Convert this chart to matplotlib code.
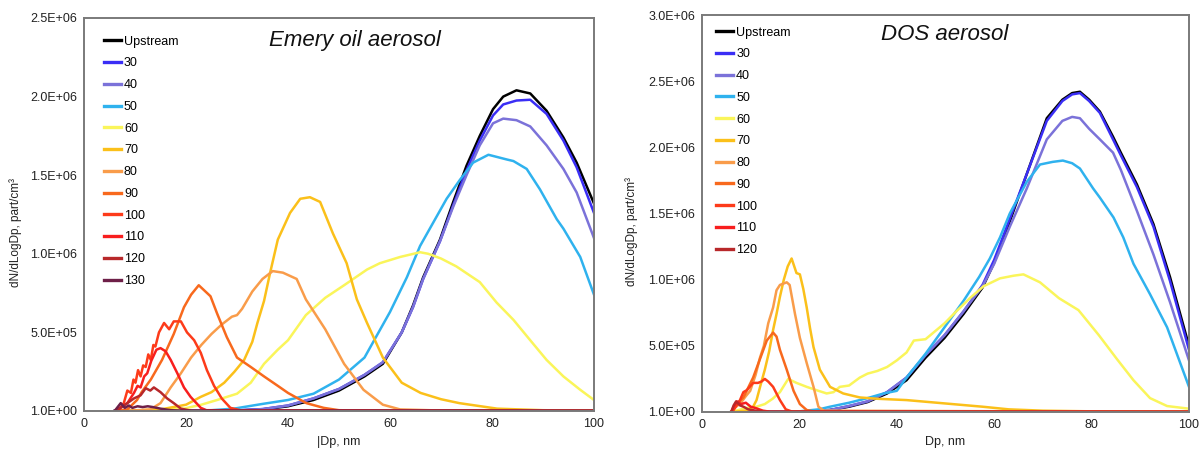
import matplotlib
matplotlib.use("Agg")
import matplotlib.pyplot as plt
import numpy as np

plt.rcParams['font.family'] = ['Liberation Sans', 'DejaVu Sans']

SCALE = 1e5  # values below are in units of 1e5 part/cm3

labels_left = ["Upstream", "30", "40", "50", "60", "70", "80", "90", "100", "110", "120", "130"]
labels_right = ["Upstream", "30", "40", "50", "60", "70", "80", "90", "100", "110", "120"]
colors = {
    "Upstream": "#000000", "30": "#3a2ef5", "40": "#7b72d9", "50": "#2fb2ee",
    "60": "#faf55a", "70": "#fbc01a", "80": "#f99c4a", "90": "#f8691d",
    "100": "#fd3b1a", "110": "#f81e1e", "120": "#b8282a", "130": "#6e1f48",
}

# ---------------- Emery oil aerosol (left) ----------------
emery_up_dp = [6, 15, 25, 30, 35, 40, 45, 50, 55, 58.6, 62.3, 64.5, 66.5, 69.8, 72.4, 75, 77.6, 80.2, 82.2, 84.8, 87.5, 90.7, 94, 96.6, 100]
emery_up = [0, 0, 0.01, 0.03, 0.1, 0.3, 0.7, 1.3, 2.2, 3.0, 5.0, 6.7, 8.5, 10.9, 13.3, 15.6, 17.5, 19.2, 20.0, 20.4, 20.2, 19.1, 17.4, 15.8, 13.2]
emery_30 = [0, 0, 0.01, 0.04, 0.12, 0.35, 0.8, 1.4, 2.3, 3.1, 5.0, 6.6, 8.4, 10.8, 13.1, 15.3, 17.2, 18.8, 19.5, 19.75, 19.8, 18.9, 17.2, 15.5, 12.6]
emery_40 = [0, 0, 0.01, 0.04, 0.12, 0.35, 0.8, 1.4, 2.3, 3.1, 5.0, 6.6, 8.4, 10.8, 13.0, 15.0, 16.9, 18.3, 18.6, 18.5, 18.1, 16.9, 15.4, 13.9, 11.0]

emery_50_dp = [6, 20, 25, 29.4, 35, 40, 45, 50, 55, 60, 63.3, 65.9, 68.5, 71.1, 73.7, 76.3, 79.3, 82.9, 84.2, 86.8, 89.4, 92.7, 94, 97.3, 100]
emery_50 = [0, 0.01, 0.05, 0.15, 0.45, 0.7, 1.1, 2.0, 3.4, 6.3, 8.5, 10.5, 12.0, 13.5, 14.7, 15.8, 16.3, 16.0, 15.9, 15.4, 14.1, 12.2, 11.6, 9.8, 7.4]

emery_60_dp = [8, 12, 15, 19.6, 23, 26.1, 30, 32.7, 35.3, 38, 40, 43.5, 47.3, 51, 55.5, 58, 62, 65.9, 67.5, 70, 73, 77.6, 80.9, 84.2, 87.5, 90.7, 94, 97.3, 100]
emery_60 = [0, 0.05, 0.1, 0.15, 0.4, 0.7, 1.1, 1.8, 3.0, 3.9, 4.5, 6.1, 7.2, 8.0, 9.0, 9.4, 9.8, 10.1, 10.0, 9.7, 9.2, 8.2, 6.9, 5.8, 4.5, 3.25, 2.2, 1.35, 0.7]

emery_70_dp = [8, 15, 20, 22.9, 25, 27.5, 29.5, 31.4, 33, 34, 35.3, 36.5, 38, 40.4, 42.4, 44.3, 46.3, 48.8, 51.5, 53.5, 55.5, 58.6, 62.3, 66, 70, 73.6, 81, 90, 100]
emery_70 = [0, 0.1, 0.4, 0.9, 1.2, 1.8, 2.5, 3.25, 4.4, 5.6, 7.0, 8.8, 10.9, 12.6, 13.5, 13.6, 13.3, 11.3, 9.4, 7.1, 5.6, 3.4, 1.8, 1.15, 0.75, 0.5, 0.15, 0.05, 0.02]

emery_80_dp = [8, 13, 15, 17, 19, 21, 23, 25, 27, 29, 30, 31, 33, 35, 37, 39, 41.7, 43.5, 47.3, 51, 54.8, 58.6, 62, 70, 100]
emery_80 = [0, 0.1, 0.5, 1.5, 2.4, 3.4, 4.2, 4.9, 5.5, 6.0, 6.1, 6.5, 7.6, 8.4, 8.9, 8.8, 8.4, 7.1, 5.2, 3.0, 1.35, 0.4, 0.1, 0.03, 0.01]

emery_90_dp = [6, 8.5, 10.4, 11.3, 13.1, 15.3, 17.6, 19.6, 21, 22.5, 24.8, 26.1, 28, 30, 32.7, 35.3, 38, 40, 43.6, 47, 50, 60, 100]
emery_90 = [0, 0.1, 0.7, 1.2, 2.0, 3.25, 4.9, 6.6, 7.4, 8.0, 7.3, 6.2, 4.7, 3.4, 2.8, 2.2, 1.6, 1.15, 0.5, 0.2, 0.05, 0.01, 0.01]

emery_100_dp = [6, 6.8, 7.8, 8.5, 9.2, 9.7, 10.1, 10.6, 11.1, 11.6, 12.1, 12.6, 13.1, 13.6, 14, 14.7, 15.7, 16.7, 17.6, 19, 20.2, 21.6, 22.9, 24.1, 25.5, 27, 28.7, 31, 100]
emery_100 = [0, 0.05, 0.5, 1.3, 1.15, 2.0, 1.8, 2.6, 2.2, 2.9, 2.8, 3.6, 3.25, 4.2, 4.1, 5.0, 5.6, 5.2, 5.7, 5.7, 5.0, 4.5, 3.7, 2.6, 1.6, 0.8, 0.2, 0.02, 0.01]

emery_110_dp = [6, 7.5, 8.5, 9.8, 10.5, 11.1, 11.8, 12.4, 13.2, 14.2, 15, 16, 17, 18.3, 19.6, 20.9, 22.9, 24, 100]
emery_110 = [0, 0.3, 0.5, 1.15, 1.6, 1.5, 2.2, 2.4, 3.2, 3.9, 4.0, 3.8, 3.25, 2.4, 1.5, 0.9, 0.2, 0.05, 0.01]

emery_120_dp = [6, 7.2, 8.5, 9.8, 11.1, 12.1, 13, 13.7, 15, 16.3, 17.6, 19, 21, 100]
emery_120 = [0, 0.2, 0.5, 0.8, 1.0, 1.45, 1.3, 1.5, 1.2, 0.8, 0.5, 0.15, 0.02, 0.01]

emery_130_dp = [6, 7.2, 8, 8.8, 9.5, 10.5, 11.5, 12.5, 13.5, 15, 17, 20, 100]
emery_130 = [0, 0.5, 0.2, 0.35, 0.2, 0.3, 0.25, 0.3, 0.25, 0.15, 0.05, 0.02, 0.01]

# ---------------- DOS aerosol (right) ----------------
dos_up_dp = [6, 20, 26.3, 30.2, 34, 38, 42, 45.9, 49.8, 53.7, 57.6, 60, 63.2, 66.7, 70.8, 74, 76, 77.6, 79.5, 81.7, 84.4, 86, 89.3, 92.7, 96.1, 100]
dos_up = [0, 0.02, 0.15, 0.4, 0.75, 1.4, 2.4, 4.1, 5.6, 7.4, 9.4, 11.3, 14.4, 18.0, 22.2, 23.6, 24.1, 24.2, 23.6, 22.7, 20.8, 19.6, 17.2, 14.2, 10.2, 5.0]
dos_30 = [0, 0.02, 0.15, 0.45, 0.8, 1.5, 2.6, 4.3, 5.8, 7.6, 9.6, 11.5, 14.6, 18.0, 22.0, 23.5, 24.0, 24.1, 23.5, 22.6, 20.6, 19.4, 17.0, 14.0, 9.9, 4.7]
dos_40 = [0, 0.02, 0.15, 0.45, 0.8, 1.5, 2.6, 4.3, 5.8, 7.6, 9.5, 11.2, 14.0, 16.9, 20.6, 22.0, 22.3, 22.2, 21.4, 20.6, 19.6, 18.3, 15.2, 11.9, 8.3, 3.9]

dos_50_dp = [6, 20, 24, 26.3, 30.2, 34, 37.3, 40, 42, 45.9, 49.8, 53.7, 56.9, 59.1, 61.2, 63.2, 66.7, 69.4, 72, 74.1, 76, 77.6, 80.3, 81.7, 84.5, 86.5, 88.6, 92, 95.5, 100]
dos_50 = [0, 0.05, 0.2, 0.4, 0.7, 1.05, 1.4, 1.6, 2.6, 4.4, 6.4, 8.4, 10.2, 11.6, 13.2, 15.0, 17.4, 18.7, 18.9, 19.0, 18.8, 18.4, 16.9, 16.2, 14.7, 13.2, 11.2, 8.9, 6.4, 1.9]

dos_60_dp = [6, 9, 11.2, 12.9, 14.5, 16, 17.7, 19.4, 21.5, 23.5, 25.6, 27, 28.3, 30.2, 32.4, 34, 36, 38, 40, 42, 43.5, 45.9, 49.8, 52.2, 55, 57.8, 61.2, 64, 66, 69.4, 73.3, 77.3, 81.5, 85.2, 88.6, 92, 95.5, 100]
dos_60 = [0, 0.3, 0.4, 0.6, 1.0, 1.5, 2.5, 2.2, 1.9, 1.65, 1.4, 1.5, 1.9, 2.0, 2.6, 2.9, 3.1, 3.4, 3.9, 4.5, 5.4, 5.5, 6.7, 7.6, 8.6, 9.5, 10.1, 10.3, 10.4, 9.8, 8.6, 7.7, 5.8, 4.0, 2.4, 1.05, 0.45, 0.25]

dos_70_dp = [6, 9, 10.5, 11.2, 12, 12.9, 13.8, 14.6, 15.3, 16, 16.8, 17.6, 18.4, 19.4, 20.1, 20.8, 21.5, 22.2, 22.9, 24.2, 26.3, 29, 32.4, 36, 42, 49.8, 57.6, 63, 70, 80, 100]
dos_70 = [0, 0.1, 0.4, 0.9, 2.0, 3.2, 4.6, 6.2, 7.4, 8.7, 10.0, 11.0, 11.6, 10.5, 10.4, 9.3, 7.9, 6.3, 4.9, 3.2, 1.9, 1.4, 1.1, 1.0, 0.9, 0.65, 0.4, 0.2, 0.1, 0.05, 0.03]

dos_80_dp = [6, 6.7, 8, 9, 9.9, 11, 11.9, 12.7, 13.6, 14.6, 15.3, 16, 17.4, 18, 19.1, 20.1, 21.5, 22.9, 23.9, 25, 100]
dos_80 = [0, 0.3, 0.7, 1.2, 1.6, 2.8, 4.1, 5.0, 6.7, 7.9, 9.2, 9.6, 9.8, 9.6, 7.4, 5.6, 3.7, 1.9, 0.4, 0.1, 0.01]

dos_90_dp = [6, 7.4, 8.5, 10.5, 12.3, 13.3, 14.6, 15.3, 16, 17.4, 18.8, 20.1, 21.5, 23, 100]
dos_90 = [0, 0.7, 1.1, 2.6, 4.4, 5.4, 6.0, 5.7, 4.7, 3.2, 1.6, 0.6, 0.15, 0.03, 0.01]

dos_100_dp = [6, 6.4, 7.8, 8.5, 9.2, 10.5, 11.5, 12.2, 12.9, 13.6, 14.6, 16, 17.2, 18.5, 100]
dos_100 = [0, 0.1, 0.9, 1.5, 1.65, 2.2, 2.2, 2.3, 2.5, 2.3, 1.9, 0.9, 0.2, 0.03, 0.01]

dos_110_dp = [6, 6.5, 7.2, 8, 9, 10, 11, 12.5, 14, 100]
dos_110 = [0, 0.4, 0.8, 0.6, 0.7, 0.4, 0.3, 0.1, 0.02, 0.01]

dos_120_dp = [6, 6.5, 7, 7.8, 8.5, 9.5, 11, 13, 100]
dos_120 = [0, 0.5, 0.8, 0.5, 0.4, 0.2, 0.1, 0.03, 0.01]

left_series = [
    ("Upstream", emery_up_dp, emery_up), ("30", emery_up_dp, emery_30), ("40", emery_up_dp, emery_40),
    ("50", emery_50_dp, emery_50), ("60", emery_60_dp, emery_60), ("70", emery_70_dp, emery_70),
    ("80", emery_80_dp, emery_80), ("90", emery_90_dp, emery_90), ("100", emery_100_dp, emery_100),
    ("110", emery_110_dp, emery_110), ("120", emery_120_dp, emery_120), ("130", emery_130_dp, emery_130),
]
right_series = [
    ("Upstream", dos_up_dp, dos_up), ("30", dos_up_dp, dos_30), ("40", dos_up_dp, dos_40),
    ("50", dos_50_dp, dos_50), ("60", dos_60_dp, dos_60), ("70", dos_70_dp, dos_70),
    ("80", dos_80_dp, dos_80), ("90", dos_90_dp, dos_90), ("100", dos_100_dp, dos_100),
    ("110", dos_110_dp, dos_110), ("120", dos_120_dp, dos_120),
]

x_ticks = [0, 20, 40, 60, 80, 100]
left_yticks = [1, 5e5, 1e6, 1.5e6, 2e6, 2.5e6]
left_yticklabels = ["1.0E+00", "5.0E+05", "1.0E+06", "1.5E+06", "2.0E+06", "2.5E+06"]
right_yticks = [1, 5e5, 1e6, 1.5e6, 2e6, 2.5e6, 3e6]
right_yticklabels = ["1.0E+00", "5.0E+05", "1.0E+06", "1.5E+06", "2.0E+06", "2.5E+06", "3.0E+06"]

W, H = 1199, 450
fig = plt.figure(figsize=(W / 100, H / 100), dpi=100)
axL = fig.add_axes([84 / W, (H - 411) / H, 510 / W, 393 / H])
axR = fig.add_axes([702 / W, (H - 412) / H, 487 / W, 397 / H])


def style(ax, series, yticks, yticklabels, ymax, xlabel, title, tpos, legpos, ylab_x):
    for name, dp, v in series:
        ax.plot(dp, np.array(v) * SCALE, color=colors[name], lw=1.8, label=name,
                solid_joinstyle='round')
    ax.set_xlim(0, 100)
    ax.set_ylim(0, ymax)
    ax.set_xticks(x_ticks)
    ax.set_xticklabels([str(t) for t in x_ticks])
    ax.set_yticks(yticks)
    ax.set_yticklabels(yticklabels)
    ax.tick_params(length=0, labelsize=9, colors='#222222', pad=5)
    for s in ax.spines.values():
        s.set_color('#7a7a7a')
        s.set_linewidth(1.4)
    ax.set_xlabel(xlabel, fontsize=9, color='#222222', labelpad=4)
    ax.set_ylabel("dN/dLogDp, part/cm³", fontsize=8.5, color='#222222')
    ax.yaxis.set_label_coords(ylab_x, 0.455)
    ax.text(tpos[0], tpos[1], title, transform=ax.transAxes, fontsize=16,
            style='italic', ha='center', va='center', color='#111111')
    leg = ax.legend(loc='upper left', bbox_to_anchor=legpos, frameon=False,
                    fontsize=9, handlelength=1.35, handletextpad=0.25,
                    labelspacing=0.78, borderpad=0, borderaxespad=0)
    for line in leg.get_lines():
        line.set_linewidth(2.4)


style(axL, left_series, left_yticks, left_yticklabels, 2.5e6, "|Dp, nm",
      "Emery oil aerosol", (0.531, 0.944), (0.039, 0.955), -0.122)
style(axR, right_series, right_yticks, right_yticklabels, 3.0e6, "Dp, nm",
      "DOS aerosol", (0.498, 0.95), (0.029, 0.971), -0.131)

fig.savefig("out.png", dpi=100)
